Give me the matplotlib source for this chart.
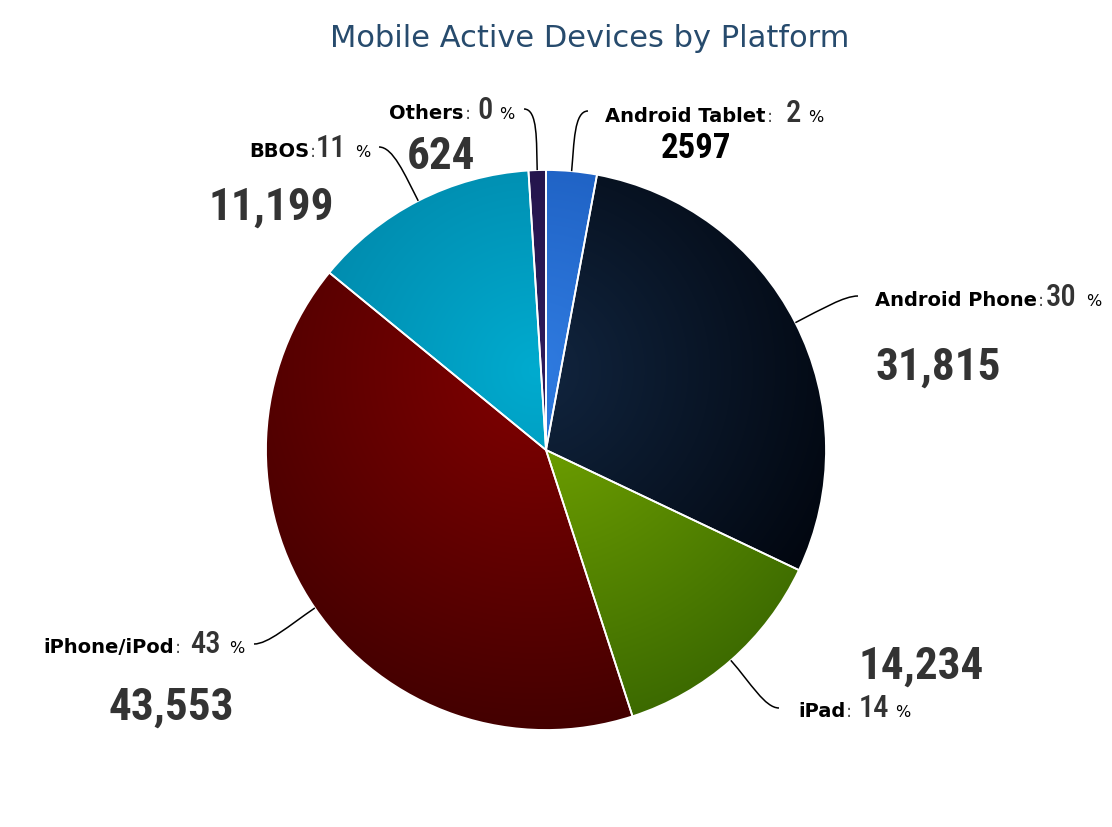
import matplotlib
matplotlib.use('Agg')
import matplotlib.pyplot as plt
import numpy as np
from matplotlib.path import Path
from matplotlib.patches import PathPatch
from matplotlib.colors import to_rgb

# ---------------- data ----------------
platforms = ['Android Tablet', 'Android Phone', 'iPad', 'iPhone/iPod', 'BBOS', 'Others']
device_counts = [2597, 31815, 14234, 43553, 11199, 624]
count_labels = ['2597', '31,815', '14,234', '43,553', '11,199', '624']
percent_labels = ['2', '30', '14', '43', '11', '0']
# slice arcs as drawn in the picture (degrees)
slice_degrees = [10.5, 104.9, 46.6, 147.3, 47.1, 3.6]
light_colors = ['#2f7be0', '#11253f', '#78aa00', '#820000', '#00abcf', '#2d1b5c']
dark_colors = ['#1450b0', '#00030a', '#3a6800', '#420000', '#007a9c', '#1e1040']
title = 'Mobile Active Devices by Platform'

NARROW = 'Roboto Condensed'
SANS = 'DejaVu Sans'

W, H = 1112, 828
fig = plt.figure(figsize=(W / 100, H / 100), dpi=100)
ax = fig.add_axes([0, 0, 1, 1])


def py(y):  # pixel-from-top to data y
    return H - y


cx, cy, R = 546, py(451), 280
wedges, _ = ax.pie(slice_degrees, center=(cx, cy), radius=R, startangle=90,
                   counterclock=False, colors=light_colors,
                   wedgeprops=dict(edgecolor='white', linewidth=1.3))
ax.set_xlim(0, W)
ax.set_ylim(0, H)
ax.set_aspect('equal')
ax.axis('off')

# radial gradient fill for every wedge
N = 600
xs = np.linspace(cx - R, cx + R, N)
ys = np.linspace(cy - R, cy + R, N)
XX, YY = np.meshgrid(xs, ys)
gx, gy = cx - 10, cy + 80
t = np.clip(np.hypot(XX - gx, YY - gy) / 370.0, 0, 1)[..., None]
for w, lc, dc in zip(wedges, light_colors, dark_colors):
    img = np.array(to_rgb(lc)) * (1 - t) + np.array(to_rgb(dc)) * t
    im = ax.imshow(img, extent=[cx - R, cx + R, cy - R, cy + R], origin='lower',
                   zorder=1, interpolation='bilinear')
    im.set_clip_path(w)
    w.set_facecolor('none')
    w.set_zorder(2)
ax.set_xlim(0, W)
ax.set_ylim(0, H)

# ---------------- labels (layout positions in pixels from top-left) ----------------
layout = {
    'Android Tablet': dict(nx=605, ny=122, px=786, sx=808, cx=661, cy=158, end=(588, 112), csize=25, ccol='#000000'),
    'Android Phone': dict(nx=875, ny=306, px=1046, sx=1086, cx=875, cy=380, end=(858, 297), csize=32.5, ccol='#333333'),
    'iPad': dict(nx=798, ny=717, px=859, sx=895, cx=858, cy=679, end=(779, 709), csize=32.5, ccol='#333333'),
    'iPhone/iPod': dict(nx=43, ny=653, px=190, sx=229, cx=108, cy=720, end=(254, 645), csize=32.5, ccol='#333333'),
    'BBOS': dict(nx=249, ny=157, px=316, sx=355, cx=208, cy=220, end=(379, 148), csize=32.5, ccol='#333333'),
    'Others': dict(nx=389, ny=119, px=477, sx=499, cx=407, cy=169, end=(524, 110), csize=32.5, ccol='#333333'),
}

fig.canvas.draw()
renderer = fig.canvas.get_renderer()

for w, name, cnt, pct in zip(wedges, platforms, count_labels, percent_labels):
    L = layout[name]
    tn = ax.text(L['nx'], py(L['ny']), name, fontsize=14, fontweight='bold', family=SANS,
                 color='#000000', ha='left', va='baseline', zorder=5)
    bb = tn.get_window_extent(renderer)
    ax.text(bb.x1 + 1, py(L['ny']), ':', fontsize=13, family=SANS, color='#555555',
            ha='left', va='baseline', zorder=5)
    ax.text(L['px'], py(L['ny']), pct, fontsize=22, family=NARROW, fontweight='medium',
            color='#333333', ha='left', va='baseline', zorder=5)
    ax.text(L['sx'], py(L['ny']), '%', fontsize=11.5, family=SANS, color='#000000',
            ha='left', va='baseline', zorder=5)
    ax.text(L['cx'], py(L['cy']), cnt, fontsize=L['csize'], family=NARROW, fontweight='bold',
            color=L['ccol'], ha='left', va='baseline', zorder=5)

    # curved connector from wedge edge (mid-angle) to label
    th = np.deg2rad((w.theta1 + w.theta2) / 2)
    d = np.array([np.cos(th), np.sin(th)])
    S = np.array([cx, cy]) + R * d
    E = np.array([L['end'][0], py(L['end'][1])])
    dist = np.linalg.norm(E - S)
    c1 = S + d * dist * 0.45
    sgn = 1 if E[0] < S[0] else -1
    c2 = E + np.array([sgn * min(14, dist * 0.3), 0])
    path = Path([S, c1, c2, E], [Path.MOVETO, Path.CURVE4, Path.CURVE4, Path.CURVE4])
    ax.add_patch(PathPatch(path, fill=False, edgecolor='#000000', linewidth=1.1, zorder=4))

ax.text(590, py(47), title, fontsize=22, family=SANS, color='#274b6d',
        ha='center', va='baseline', zorder=5)

fig.savefig('out.png', dpi=100, facecolor='white')
